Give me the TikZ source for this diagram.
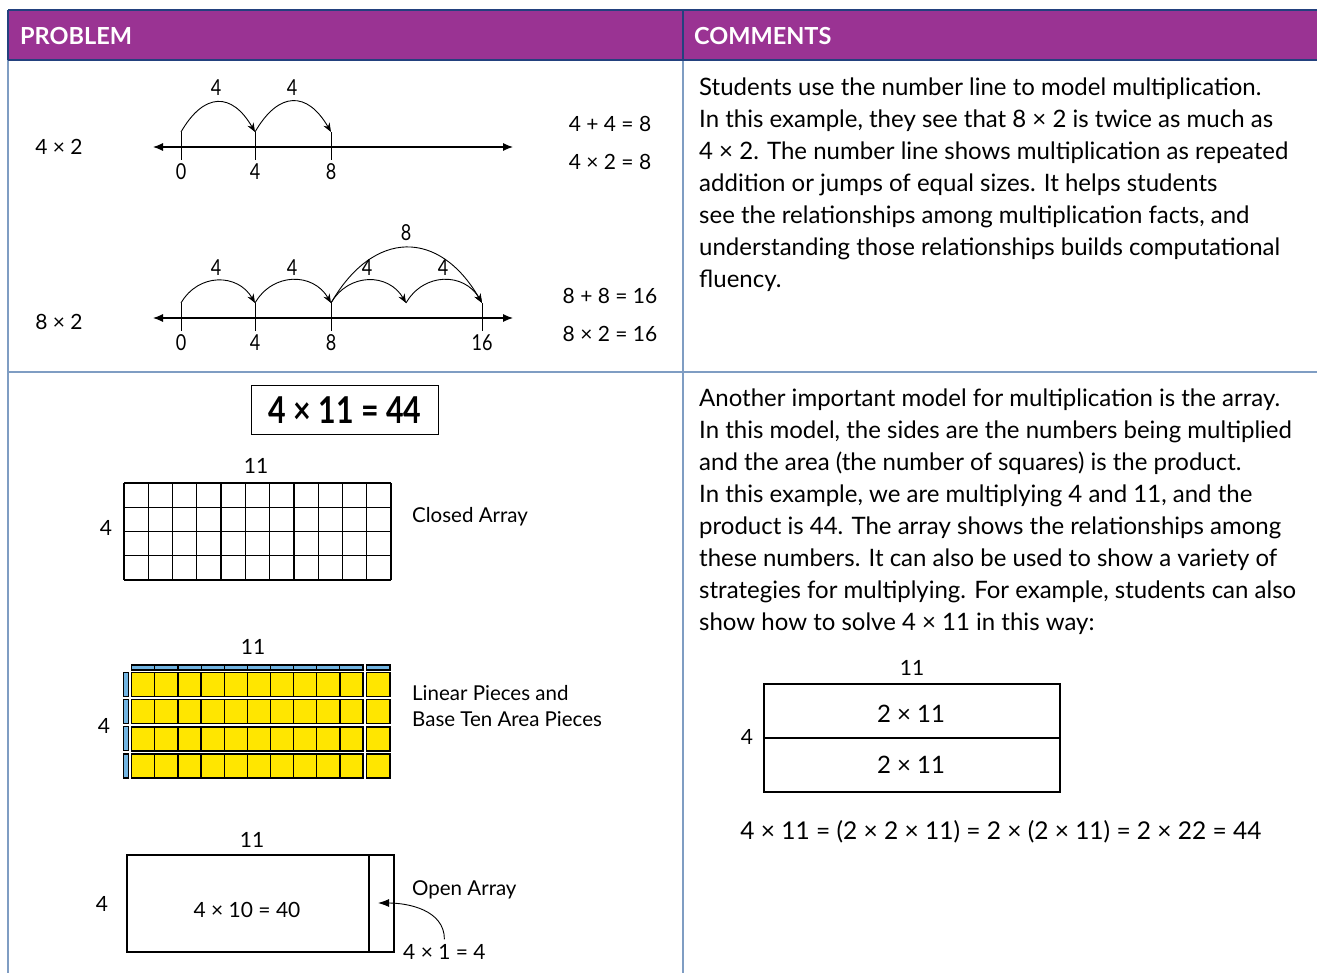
\documentclass[tikz,border=0pt]{standalone}
\usepackage{fontspec}
\setmainfont{Lato}
\newfontfamily\condfont[FakeStretch=0.82]{Lato}
\usetikzlibrary{arrows.meta,positioning}
\definecolor{HeadPurple}{HTML}{9A3393}
\definecolor{HeadNavy}{HTML}{23417E}
\definecolor{RuleBlue}{HTML}{7F9DC3}
\definecolor{PieceYellow}{HTML}{FFE600}
\definecolor{PieceBlue}{HTML}{72B5E2}
\tikzset{
  >={Latex[length=10pt,width=8pt]},
  head/.style={anchor=west, text=white, inner sep=0pt,
    font=\fontsize{23.5}{26}\selectfont\bfseries},
  comment/.style={anchor=north west, align=left, inner sep=0pt,
    font=\fontsize{24}{32}\selectfont},
  numlab/.style={inner sep=0pt, font=\condfont\fontsize{22}{24}\selectfont},
  eqn/.style={inner sep=0pt, font=\fontsize{21}{24}\selectfont},
  sidelab/.style={inner sep=0pt, font=\fontsize{21}{24}\selectfont},
  arraycap/.style={anchor=west, align=left, inner sep=0pt,
    font=\fontsize{20.5}{26}\selectfont},
  numline/.style={draw, <->, line width=1.1pt},
  tickmark/.style={draw, line width=1pt},
  hop/.style={draw, line width=0.9pt, -{Stealth[length=9pt,width=7pt]}},
  gridline/.style={draw, line width=1.2pt},
  piece/.style={draw, line width=1.3pt, fill=PieceYellow},
  rod/.style={draw, line width=1.1pt, fill=PieceBlue},
  openbox/.style={draw, line width=2pt},
  rule/.style={draw=RuleBlue, line width=1.5pt},
  navy/.style={draw=HeadNavy, line width=1.5pt}
}
\begin{document}
\begin{tikzpicture}[x=1pt, y=-1pt]
\useasboundingbox (0,0) rectangle (1317,973);

% table frame
\fill[HeadPurple] (8,10) rectangle (1317,60);
\draw[rule] (8,60) -- (8,973);
\draw[rule] (683,60) -- (683,973);
\draw[rule] (8,372) -- (1317,372);
\draw[navy] (8,10) -- (1317,10);
\draw[navy] (8,60) -- (1317,60);
\draw[navy] (8,10) -- (8,60);
\draw[navy] (683,10) -- (683,60);
\node[head] (problem) at (20,36) {PROBLEM};
\node[head] (comments) at (694,36) {COMMENTS};

% number line 4 x 2
\node[sidelab] (fourtwo) at (59,147) {4 × 2};
\coordinate (la) at (153,147);
\coordinate (lb) at (513,147);
\draw[numline] (la) -- (lb);
\foreach \x/\n in {181/0,255/4,331/8}{
  \draw[tickmark] (\x,132) -- (\x,160);
  \coordinate (a\n) at (\x,132);
  \node[numlab] (ta\n) at (\x,172) {\n};
}
\draw[hop] (a0) to[out=60,in=120,looseness=1.6] (a4);
\draw[hop] (a4) to[out=60,in=120,looseness=1.6] (a8);
\node[numlab] (ha1) at (216,88) {4};
\node[numlab] (ha2) at (292,88) {4};
\node[eqn] (suma) at (610,124) {4 + 4 = 8};
\node[eqn] (proda) at (610,162) {4 × 2 = 8};

% number line 8 x 2
\node[sidelab] (eighttwo) at (59,322) {8 × 2};
\coordinate (lc) at (153,318);
\coordinate (ld) at (513,318);
\draw[numline] (lc) -- (ld);
\foreach \x/\n in {181/0,255/4,331/8,482/16}{
  \draw[tickmark] (\x,303) -- (\x,331);
  \coordinate (b\n) at (\x,303);
  \node[numlab] (tb\n) at (\x,343) {\n};
}
\coordinate (b12) at (406,303);
\draw[hop] (b0) to[out=60,in=120,looseness=1.2] (b4);
\draw[hop] (b4) to[out=60,in=120,looseness=1.2] (b8);
\draw[hop] (b8) to[out=60,in=120,looseness=1.2] (b12);
\draw[hop] (b12) to[out=60,in=120,looseness=1.2] (b16);
\draw[hop] (b8) to[out=60,in=120,looseness=1.45] (b16);
\node[numlab] (hb1) at (216,268) {4};
\node[numlab] (hb2) at (292,268) {4};
\node[numlab] (hb3) at (367,268) {4};
\node[numlab] (hb4) at (443,268) {4};
\node[numlab] (hb5) at (406,233) {8};
\node[eqn] (sumb) at (610,296) {8 + 8 = 16};
\node[eqn] (prodb) at (610,334) {8 × 2 = 16};

\node[comment] (textone) at (699,78) {Students use the number line to model multiplication.\\
In this example, they see that 8 × 2 is twice as much as\\
4 × 2. The number line shows multiplication as repeated\\
addition or jumps of equal sizes. It helps students\\
see the relationships among multiplication facts, and\\
understanding those relationships builds computational\\
fluency.};

% 4 x 11 = 44
\node[draw, line width=1pt, minimum width=187pt, minimum height=49pt,
  font=\condfont\fontsize{37}{40}\selectfont\bfseries] (total) at (345,410) {4 × 11 = 44};

% closed array
\foreach \i in {0,...,11}
  \draw[gridline] ({124+\i*267/11},483) -- ({124+\i*267/11},580);
\foreach \j in {0,...,4}
  \draw[gridline] (124,{483+\j*97/4}) -- (391,{483+\j*97/4});
\node[sidelab] (closedtop) at (256,466) {11};
\node[sidelab] (closedside) at (106,528) {4};
\node[arraycap] (closedcap) at (412,517) {Closed Array};

% linear pieces and base ten area pieces
\foreach \r in {0,...,3}{
  \foreach \c in {0,...,9}
    \draw[piece] ({131.7+\c*23.13},{672.7+\r*27.1}) rectangle ++(23.13,24);
  \draw[piece] (366.7,{672.7+\r*27.1}) rectangle ++(23.3,24);
  \draw[rod] (123.3,{672.7+\r*27.1}) rectangle ++(5,24);
}
\foreach \c in {0,...,9}
  \draw[rod] ({131.7+\c*23.13},665) rectangle ++(23.13,5);
\draw[rod] (366.7,665) rectangle ++(23.3,5);
\node[sidelab] (piecetop) at (253,647) {11};
\node[sidelab] (pieceside) at (104,726) {4};
\node[arraycap] (piececap) at (412,706) {Linear Pieces and\\Base Ten Area Pieces};

% open array
\draw[openbox] (127,855) rectangle (394,952);
\draw[openbox] (369,855) -- (369,952);
\node[sidelab] (opentop) at (252,840) {11};
\node[sidelab] (openside) at (102,904) {4};
\node[sidelab] (tens) at (247,910) {4 × 10 = 40};
\node[arraycap] (opencap) at (412,890) {Open Array};
\node[sidelab, anchor=west] (ones) at (403,952) {4 × 1 = 4};
\coordinate (tip) at (378,903);
\draw[hop, -{Latex[length=11pt,width=8pt]}] ([yshift=5pt]ones.north) to[out=90,in=0] (tip);

\node[comment] (texttwo) at (699,389) {Another important model for multiplication is the array.\\
In this model, the sides are the numbers being multiplied\\
and the area (the number of squares) is the product.\\
In this example, we are multiplying 4 and 11, and the\\
product is 44. The array shows the relationships among\\
these numbers. It can also be used to show a variety of\\
strategies for multiplying. For example, students can also\\
show how to solve 4 × 11 in this way:};

% split array
\draw[openbox] (764,684) rectangle (1060,792);
\draw[openbox] (764,738) -- (1060,738);
\node[sidelab] (splittop) at (912,668) {11};
\node[sidelab] (splitside) at (747,737) {4};
\node[sidelab, font=\fontsize{24}{26}\selectfont] (upper) at (911,714) {2 × 11};
\node[sidelab, font=\fontsize{24}{26}\selectfont] (lower) at (911,765) {2 × 11};
\node[sidelab, font=\fontsize{24.5}{26}\selectfont] (chain) at (1001,832)
  {4 × 11 = (2 × 2 × 11) = 2 × (2 × 11) = 2 × 22 = 44};

\end{tikzpicture}
\end{document}
